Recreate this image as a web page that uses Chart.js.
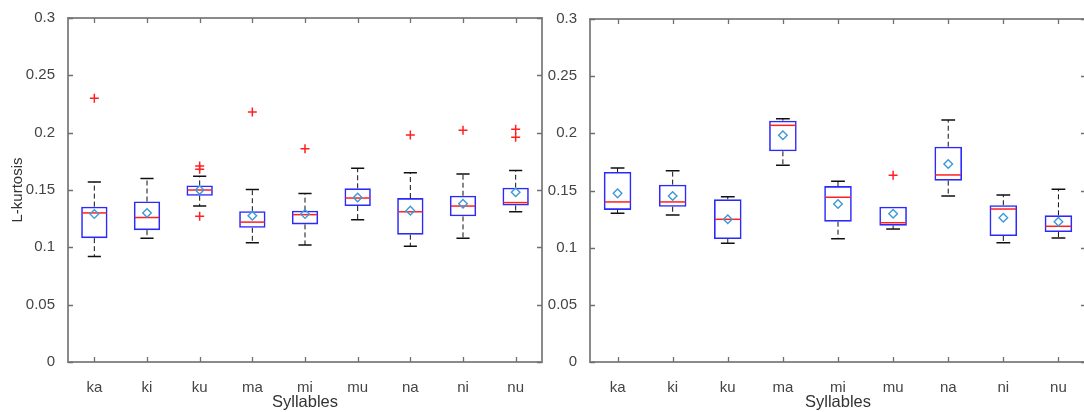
<!DOCTYPE html>
<html>
<head>
<meta charset="utf-8">
<script src="https://cdn.jsdelivr.net/npm/chart.js@4/dist/chart.umd.min.js"></script>
<style>
  html, body { margin: 0; padding: 0; background: #fff; overflow: hidden; width: 1084px; height: 412px; }
  .pane { position: absolute; top: 0; height: 412px; }
  #paneLeft { left: 0; width: 545px; }
  #paneRight { left: 545px; width: 545px; }
</style>
</head>
<body>
<div class="pane" id="paneLeft"><canvas id="chartLeft" width="545" height="412"></canvas></div>
<div class="pane" id="paneRight"><canvas id="chartRight" width="545" height="412"></canvas></div>
<script>
// Categories and y-axis ticks
const syllables = ['ka', 'ki', 'ku', 'ma', 'mi', 'mu', 'na', 'ni', 'nu'];
const yTickValues = [0, 0.05, 0.1, 0.15, 0.2, 0.25, 0.3];

// Left panel: whisker ends, quartiles, median, mean, outliers
const leftLow      = [0.092, 0.108, 0.136, 0.104, 0.102, 0.124, 0.101, 0.108, 0.131];
const leftQ1       = [0.108, 0.115, 0.145, 0.117, 0.120, 0.136, 0.111, 0.127, 0.1365];
const leftMedian   = [0.130, 0.126, 0.150, 0.122, 0.1285, 0.143, 0.131, 0.136, 0.139];
const leftQ3       = [0.1355, 0.140, 0.154, 0.1315, 0.132, 0.1515, 0.143, 0.145, 0.152];
const leftHigh     = [0.157, 0.160, 0.162, 0.1505, 0.147, 0.169, 0.165, 0.164, 0.167];
const leftMean     = [0.129, 0.130, 0.150, 0.1275, 0.129, 0.1435, 0.132, 0.138, 0.148];
const leftOutliers = [[0.230], [], [0.171, 0.168, 0.127], [0.218], [0.186], [], [0.198], [0.202], [0.203, 0.196]];

// Right panel
const rightLow      = [0.130, 0.1286, 0.1038, 0.172, 0.1078, 0.1163, 0.1452, 0.1043, 0.1085];
const rightQ1       = [0.133, 0.1358, 0.1076, 0.1843, 0.1227, 0.1192, 0.1586, 0.1102, 0.1137];
const rightMedian   = [0.140, 0.140, 0.1248, 0.207, 0.1441, 0.1218, 0.1636, 0.1338, 0.1187];
const rightQ3       = [0.1662, 0.1551, 0.1423, 0.2111, 0.1539, 0.1358, 0.1883, 0.1371, 0.1283];
const rightHigh     = [0.1697, 0.1673, 0.1446, 0.2128, 0.1581, 0.1358, 0.2117, 0.1461, 0.1511];
const rightMean     = [0.1475, 0.1452, 0.1248, 0.1983, 0.1382, 0.1297, 0.1732, 0.1262, 0.1227];
const rightOutliers = [[], [], [], [], [], [0.1633], [], [], []];

Chart.defaults.font.family = '"Liberation Sans", Arial, Helvetica, sans-serif';
Chart.defaults.color = '#444';

const AXIS_GREY = '#8a8a8a';

// Whisker stems, caps and median lines, drawn just before the mean markers
function boxParts(s) {
  return {
    id: 'boxParts',
    beforeDatasetDraw(chart, args) {
      if (args.index !== 0) return;
      const y = chart.scales.y;
      const bars = chart.getDatasetMeta(2).data;
      const ctx = chart.ctx;
      ctx.save();
      bars.forEach((bar, i) => {
        const cx = bar.x, half = bar.width / 2, cap = half / 2;
        const pHi = y.getPixelForValue(s.high[i]);
        const pQ3 = y.getPixelForValue(s.q3[i]);
        const pQ1 = y.getPixelForValue(s.q1[i]);
        const pLo = y.getPixelForValue(s.low[i]);
        const pMed = y.getPixelForValue(s.median[i]);

        ctx.strokeStyle = '#111';
        ctx.lineWidth = 1;
        ctx.setLineDash([5, 3]);
        ctx.beginPath();
        if (s.high[i] > s.q3[i]) { ctx.moveTo(cx, pQ3); ctx.lineTo(cx, pHi); }
        if (s.low[i] < s.q1[i]) { ctx.moveTo(cx, pQ1); ctx.lineTo(cx, pLo); }
        ctx.stroke();

        ctx.setLineDash([]);
        ctx.lineWidth = 1.5;
        ctx.beginPath();
        if (s.high[i] > s.q3[i]) { ctx.moveTo(cx - cap, pHi); ctx.lineTo(cx + cap, pHi); }
        if (s.low[i] < s.q1[i]) { ctx.moveTo(cx - cap, pLo); ctx.lineTo(cx + cap, pLo); }
        ctx.stroke();

        ctx.strokeStyle = '#ff2020';
        ctx.lineWidth = 1.5;
        ctx.beginPath();
        ctx.moveTo(cx - half + 1, pMed);
        ctx.lineTo(cx + half - 1, pMed);
        ctx.stroke();
      });
      ctx.restore();
    }
  };
}

// Top/right frame lines and inward tick marks on all four sides
const frame = {
  id: 'frame',
  afterDraw(chart) {
    const { ctx, chartArea: a, scales: { x, y } } = chart;
    ctx.save();
    ctx.strokeStyle = AXIS_GREY;
    ctx.lineWidth = 2;
    ctx.beginPath();
    ctx.moveTo(a.left, a.top);
    ctx.lineTo(a.right, a.top);
    ctx.lineTo(a.right, a.bottom);
    ctx.stroke();

    ctx.lineWidth = 1.3;
    ctx.strokeStyle = '#6f6f6f';
    ctx.beginPath();
    y.ticks.forEach((t, i) => {
      const py = Math.round(y.getPixelForTick(i)) + 0.5;
      ctx.moveTo(a.left, py); ctx.lineTo(a.left + 5, py);
      ctx.moveTo(a.right, py); ctx.lineTo(a.right - 5, py);
    });
    x.ticks.forEach((t, i) => {
      const px = Math.round(x.getPixelForTick(i)) + 0.5;
      ctx.moveTo(px, a.bottom); ctx.lineTo(px, a.bottom - 5);
      ctx.moveTo(px, a.top); ctx.lineTo(px, a.top + 5);
    });
    ctx.stroke();
    ctx.restore();
  }
};

function buildChart(canvasId, s, cfg) {
  const meanPts = syllables.map((c, i) => ({ x: c, y: s.mean[i] }));
  const outPts = [];
  s.outliers.forEach((arr, i) => arr.forEach(v => outPts.push({ x: syllables[i], y: v })));

  return new Chart(document.getElementById(canvasId), {
    type: 'bar',
    data: {
      labels: syllables,
      datasets: [
        {
          type: 'line', data: meanPts, showLine: false,
          pointStyle: 'rectRot', pointRadius: 4.3, pointBorderWidth: 1.4,
          pointBorderColor: '#3d9ad8', pointBackgroundColor: 'rgba(0,0,0,0)'
        },
        {
          type: 'line', data: outPts, showLine: false,
          pointStyle: 'cross', pointRadius: 4.5, pointBorderWidth: 1.5,
          pointBorderColor: '#ff2020', pointBackgroundColor: 'rgba(0,0,0,0)'
        },
        {
          type: 'bar', data: syllables.map((c, i) => [s.q1[i], s.q3[i]]),
          backgroundColor: 'rgba(0,0,0,0)', borderColor: '#2a2aff', borderWidth: 1.6,
          borderSkipped: false, barPercentage: 0.5, categoryPercentage: 1
        }
      ]
    },
    options: {
      responsive: false,
      maintainAspectRatio: false,
      animation: false,
      events: [],
      layout: { autoPadding: false, padding: { left: 0, top: cfg.top, right: cfg.right, bottom: 0 } },
      plugins: { legend: { display: false }, tooltip: { enabled: false } },
      scales: {
        x: {
          type: 'category',
          offset: true,
          grid: { display: false },
          border: { display: true, color: AXIS_GREY, width: 2 },
          ticks: { padding: 9, font: { size: 15 }, color: '#444', maxRotation: 0 },
          title: { display: true, text: 'Syllables', font: { size: 16.5 }, color: '#333', padding: { top: 0, bottom: 0 } },
          afterFit(sc) {
            sc.height = 50;
            sc.paddingLeft = 0; sc.paddingRight = 0; sc.paddingTop = 0; sc.paddingBottom = 0;
          }
        },
        y: {
          type: 'linear',
          min: 0, max: 0.3,
          grid: { display: false },
          border: { display: true, color: AXIS_GREY, width: 2 },
          ticks: { padding: 5, font: { size: 15 }, color: '#444', callback: v => String(v) },
          title: { display: !!cfg.yTitle, text: cfg.yTitle || '', font: { size: 15 }, color: '#333', padding: { top: 8.5, bottom: 0 } },
          afterBuildTicks(sc) { sc.ticks = yTickValues.map(v => ({ value: v })); },
          afterFit(sc) {
            sc.width = cfg.yWidth;
            sc.paddingLeft = 0; sc.paddingRight = 0; sc.paddingTop = 0; sc.paddingBottom = 0;
          }
        }
      }
    },
    plugins: [boxParts(s), frame]
  });
}

buildChart('chartLeft', {
  low: leftLow, q1: leftQ1, median: leftMedian, q3: leftQ3, high: leftHigh,
  mean: leftMean, outliers: leftOutliers
}, { top: 18, right: 3, yWidth: 68, yTitle: 'L-kurtosis' });

buildChart('chartRight', {
  low: rightLow, q1: rightQ1, median: rightMedian, q3: rightQ3, high: rightHigh,
  mean: rightMean, outliers: rightOutliers
}, { top: 19, right: 4, yWidth: 45, yTitle: '' });
</script>
</body>
</html>
